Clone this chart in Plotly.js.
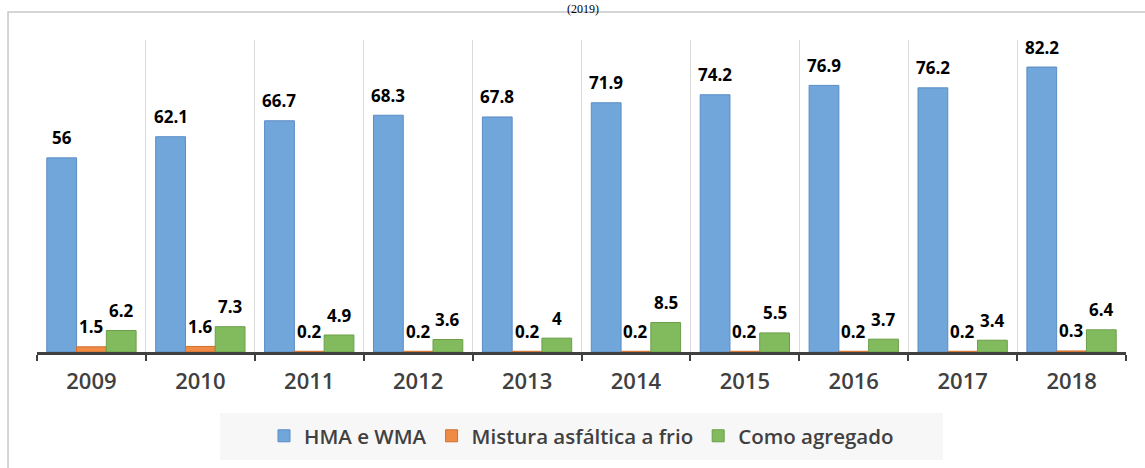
<!DOCTYPE html>
<html><head><meta charset="utf-8">
<script src="https://cdn.plot.ly/plotly-3.0.1.min.js"></script>
<style>html,body{margin:0;padding:0;background:#fff}#c{width:1145px;height:468px}</style>
</head><body><div id="c"></div>
<script>
const years = ['2009','2010','2011','2012','2013','2014','2015','2016','2017','2018'];
const hmaWma = [56, 62.1, 66.7, 68.3, 67.8, 71.9, 74.2, 76.9, 76.2, 82.2];
const misturaFrio = [1.5, 1.6, 0.2, 0.2, 0.2, 0.2, 0.2, 0.2, 0.2, 0.3];
const comoAgregado = [6.2, 7.3, 4.9, 3.6, 4, 8.5, 5.5, 3.7, 3.4, 6.4];
const seriesNames = ['HMA e WMA', 'Mistura asfáltica a frio', 'Como agregado'];
const titleText = '(2019)';

const series = [hmaWma, misturaFrio, comoAgregado];
const fills = ['#71A6DA', '#EF8B45', '#82BB5D'];
const lines = ['#5A8CC6', '#D0702E', '#6C9E4A'];
const bargap = 0.18;

const traces = series.map((vals, k) => ({
  type: 'bar', x: years, y: vals, name: seriesNames[k],
  marker: {color: fills[k], line: {color: lines[k], width: 1}},
  hoverinfo: 'skip'
}));

const annotations = [];
const w = (1 - bargap) / 3;
series.forEach((vals, k) => {
  vals.forEach((v, i) => {
    annotations.push({
      xref: 'x', yref: 'y', x: i + (k - 1) * w, y: v, yshift: 20,
      text: String(v), showarrow: false,
      font: {family: 'Open Sans', size: 17, color: '#000', weight: 700}
    });
  });
});
annotations.push({
  xref: 'paper', yref: 'paper', x: 0.501, y: 1.128, yanchor: 'top',
  text: titleText, showarrow: false,
  font: {family: 'Liberation Serif', size: 12, color: '#000'}
});

const layout = {
  width: 1145, height: 468,
  margin: {l: 37, r: 19, t: 40, b: 116},
  paper_bgcolor: '#fff', plot_bgcolor: '#fff',
  barmode: 'group', bargap: bargap, bargroupgap: 0,
  showlegend: true,
  legend: {orientation: 'h', x: 0.5, xanchor: 'center', y: -0.205, yanchor: 'top',
    bgcolor: 'rgba(0,0,0,0)', font: {family: 'Open Sans', size: 20.5, color: '#404040', weight: 600},
    traceorder: 'normal', itemwidth: 30},
  xaxis: {type: 'category', tickson: 'boundaries', showgrid: true, gridcolor: '#D9D9D9', gridwidth: 1,
    showline: true, linecolor: '#404040', linewidth: 3, ticks: 'outside', ticklen: 6, tickwidth: 2,
    tickcolor: '#404040', tickfont: {family: 'Open Sans', size: 22, color: '#404040', weight: 600},
    ticklabelstandoff: 8, zeroline: false},
  yaxis: {range: [0, 90], visible: false, showgrid: false, zeroline: false},
  shapes: [
    {type: 'rect', xref: 'paper', yref: 'paper', x0: -0.0266, x1: 1.05, y0: -0.5, y1: 1.0897,
      line: {color: '#C8C8C8', width: 1.5}, fillcolor: 'rgba(0,0,0,0)', layer: 'below'},
    {type: 'rect', xref: 'paper', yref: 'paper', x0: 0.168, x1: 0.832, y0: -0.346, y1: -0.1955,
      line: {width: 0}, fillcolor: '#F7F7F7', layer: 'below'}
  ],
  annotations: annotations
};
Plotly.newPlot('c', traces, layout, {displayModeBar: false, staticPlot: true});
</script></body></html>
